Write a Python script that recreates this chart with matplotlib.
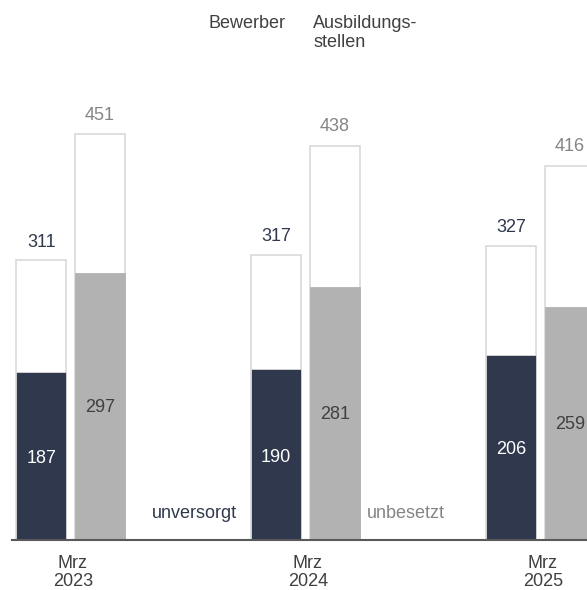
import numpy as np
import matplotlib
matplotlib.use('Agg')
import matplotlib.pyplot as plt

plt.rcParams['font.family'] = ['Liberation Sans', 'DejaVu Sans']

periods = ['Mrz\n2023', 'Mrz\n2024', 'Mrz\n2025']
bewerber = [311, 317, 327]
unversorgt = [187, 190, 206]
stellen = [451, 438, 416]
unbesetzt = [297, 281, 259]

NAVY = '#2f384d'
GRAY = '#b2b2b2'
EDGE = '#d9d9d9'
TXT = '#404040'
LGRAY = '#858585'

fig = plt.figure(figsize=(5.87, 5.90), dpi=100)
ax = fig.add_axes([12/587, 50/590, 575/587, 540/590])

x = np.arange(len(periods))
w = 50/235
off = 29.25/235

# totals (white with light outline), then filled part
ax.bar(x - off, bewerber, w, color='white', edgecolor=EDGE, linewidth=1.2)
ax.bar(x + off, stellen, w, color='white', edgecolor=EDGE, linewidth=1.2)
ax.bar(x - off, unversorgt, w, color=NAVY, edgecolor=EDGE, linewidth=0.6)
ax.bar(x + off, unbesetzt, w, color=GRAY, edgecolor=GRAY, linewidth=0.6)

fs = 13
for i in range(len(periods)):
    ax.text(x[i] - off, bewerber[i] + 20, str(bewerber[i]), ha='center', va='center',
            color=NAVY, fontsize=fs)
    ax.text(x[i] + off, stellen[i] + 21, str(stellen[i]), ha='center', va='center',
            color=LGRAY, fontsize=fs)
    ax.text(x[i] - off, unversorgt[i] / 2 - 3, str(unversorgt[i]), ha='center', va='center',
            color='white', fontsize=fs)
    ax.text(x[i] + off, unbesetzt[i] / 2 - 1, str(unbesetzt[i]), ha='center', va='center',
            color=TXT, fontsize=fs)

ax.text((194 - 70.5) / 235, 30, 'unversorgt', ha='center', va='center', color=NAVY, fontsize=fs)
ax.text((406 - 70.5) / 235, 30, 'unbesetzt', ha='center', va='center', color=LGRAY, fontsize=fs)

fig.text(209/587, 1 - 23/590, 'Bewerber', ha='left', va='center', color=TXT, fontsize=fs)
fig.text(313/587, 1 - 33/590, 'Ausbildungs-\nstellen', ha='left', va='center', color=TXT,
         fontsize=fs, linespacing=1.1)

ax.set_xlim(-58.5/235, (575 - 58.5)/235)
ax.set_ylim(0, 600)
ax.set_xticks(x + 0.01, periods, fontsize=fs, color=TXT, linespacing=1.12)
ax.tick_params(axis='x', length=0, pad=10.5)
ax.set_yticks([])
for s in ['top', 'right', 'left']:
    ax.spines[s].set_visible(False)
ax.spines['bottom'].set_color('#595959')
ax.spines['bottom'].set_linewidth(1.5)

fig.savefig('out.png', dpi=100)
